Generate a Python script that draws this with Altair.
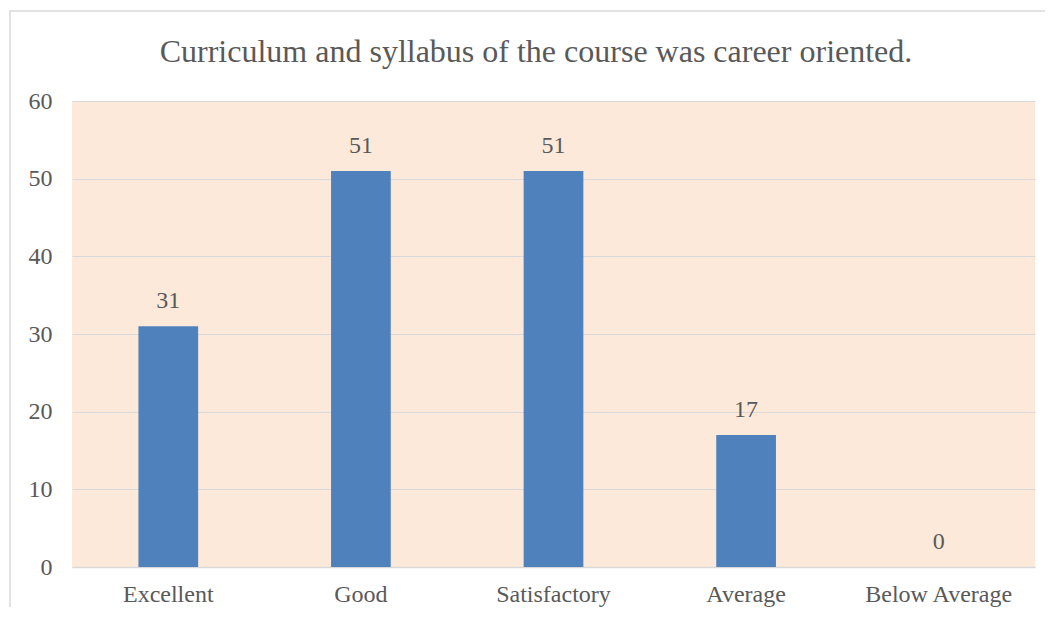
import altair as alt
import pandas as pd

categories = ["Excellent", "Good", "Satisfactory", "Average", "Below Average"]
values = [31, 51, 51, 17, 0]
y_ticks = [0, 10, 20, 30, 40, 50, 60]
title_text = "Curriculum and syllabus of the course was career oriented."

FONT = "Liberation Serif"
TXT = "#595959"
W, H = 963, 466

df = pd.DataFrame({"category": categories, "value": values})

x_enc = alt.X("category:N", sort=categories, title=None,
              scale=alt.Scale(paddingInner=0.69, paddingOuter=0.345),
              axis=alt.Axis(labelAngle=0, labelFont=FONT, labelFontSize=24, labelColor=TXT,
                            labelPadding=15, ticks=False, domainColor="#D9D9D9", domainWidth=1.5,
                            grid=False))
y_enc = alt.Y("value:Q", title=None,
              scale=alt.Scale(domain=[0, 60], nice=False),
              axis=alt.Axis(values=y_ticks, labelFont=FONT, labelFontSize=24, labelColor=TXT,
                            labelPadding=20, ticks=False, domain=False,
                            gridColor="#D9D9D9", gridWidth=1))

one = pd.DataFrame({"b": [0]})

border = alt.Chart(one).mark_rect(
    fill="transparent", stroke="#D9D9D9", strokeWidth=1.5
).encode(x=alt.value(-62), x2=alt.value(W + 100), y=alt.value(-90), y2=alt.value(H + 100))

title = alt.Chart(one).mark_text(
    font=FONT, fontSize=32, color=TXT, baseline="alphabetic", align="center"
).encode(x=alt.value(464), y=alt.value(-39), text=alt.value(title_text))

bars = alt.Chart(df).mark_bar(color="#4F81BD").encode(x=x_enc, y=y_enc)

labels = alt.Chart(df).mark_text(
    font=FONT, fontSize=24, color=TXT, baseline="alphabetic", dy=-18
).encode(x=alt.X("category:N", sort=categories), y="value:Q", text="value:Q")

chart = alt.layer(border, title, bars, labels).properties(
    width=W, height=H,
    autosize=alt.AutoSizeParams(type="none"),
    padding={"left": 64, "top": 93, "right": 10, "bottom": 40},
).configure_view(fill="#FDE9D9", stroke=None)

chart.save("out.html", embed_options={"renderer": "svg", "actions": False})
